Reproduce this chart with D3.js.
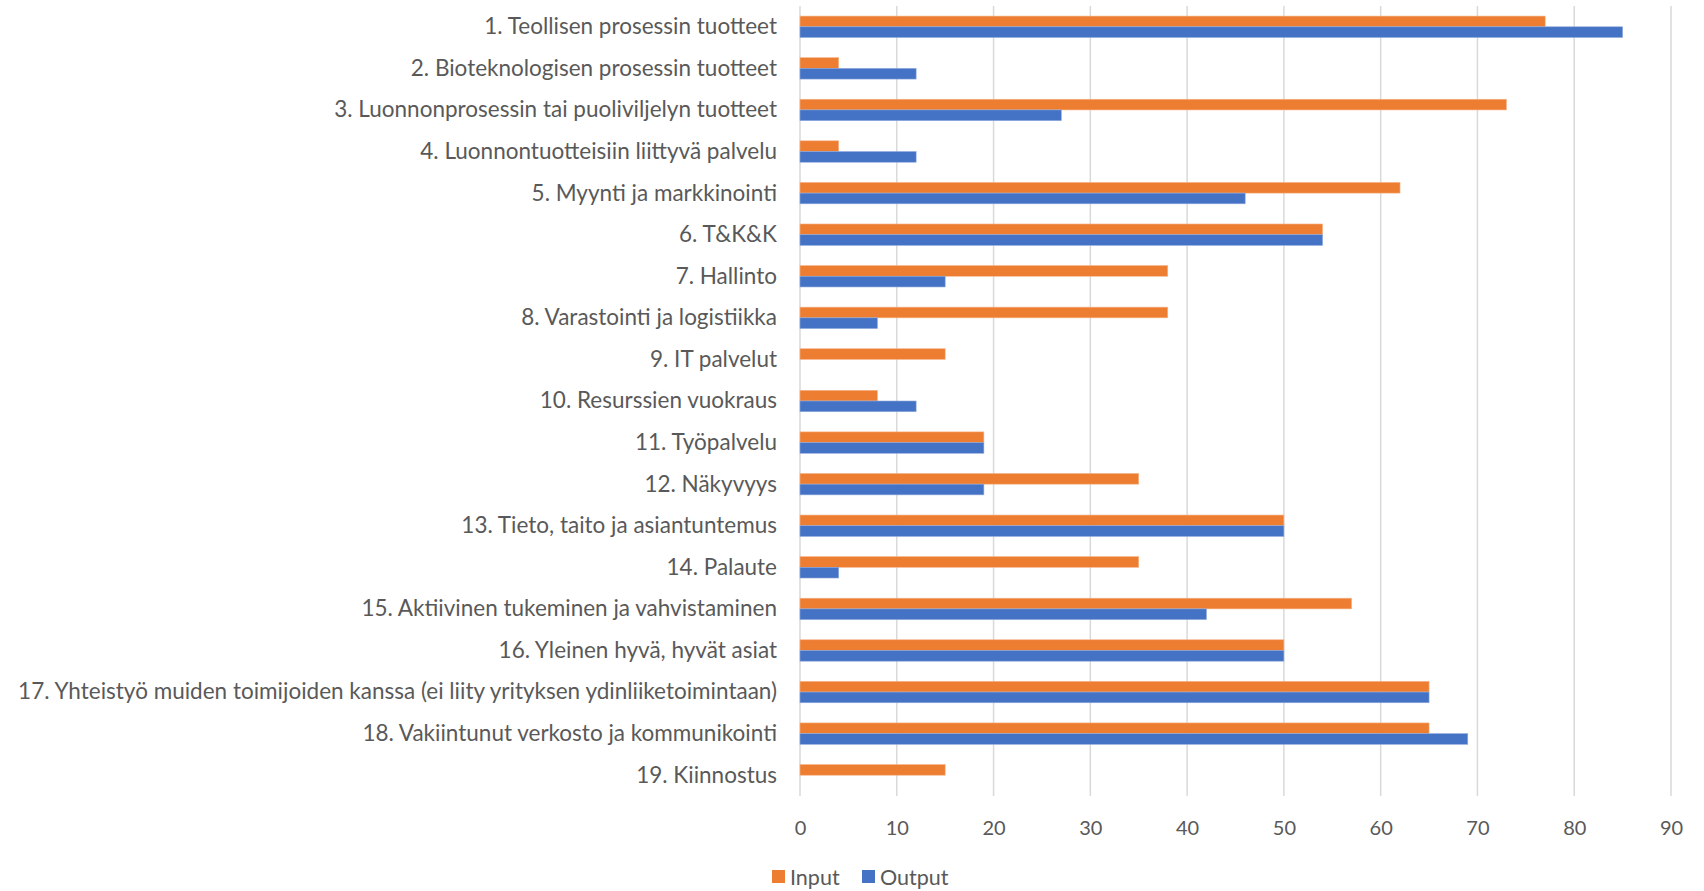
<!DOCTYPE html>
<html>
<head>
<meta charset="utf-8">
<script src="https://cdn.jsdelivr.net/npm/d3@7"></script>
<style>
  html, body { margin: 0; padding: 0; background: #ffffff; }
  svg { display: block; }
  text { font-family: Lato, "Open Sans", sans-serif; fill: #595959; }
</style>
</head>
<body>
<script>
const categories = [
  "1. Teollisen prosessin tuotteet",
  "2. Bioteknologisen prosessin tuotteet",
  "3. Luonnonprosessin tai puoliviljelyn tuotteet",
  "4. Luonnontuotteisiin liittyvä palvelu",
  "5. Myynti ja markkinointi",
  "6. T&K&K",
  "7. Hallinto",
  "8. Varastointi ja logistiikka",
  "9. IT palvelut",
  "10. Resurssien vuokraus",
  "11. Työpalvelu",
  "12. Näkyvyys",
  "13. Tieto, taito ja asiantuntemus",
  "14. Palaute",
  "15. Aktiivinen tukeminen ja vahvistaminen",
  "16. Yleinen hyvä, hyvät asiat",
  "17. Yhteistyö muiden toimijoiden kanssa (ei liity yrityksen ydinliiketoimintaan)",
  "18. Vakiintunut verkosto ja kommunikointi",
  "19. Kiinnostus"
];
const inputValues  = [77, 4, 73, 4, 62, 54, 38, 38, 15, 8, 19, 35, 50, 35, 57, 50, 65, 65, 15];
const outputValues = [85, 12, 27, 12, 46, 54, 15, 8, 0, 12, 19, 19, 50, 4, 42, 50, 65, 69, 0];
const xTicks = [0, 10, 20, 30, 40, 50, 60, 70, 80, 90];
const seriesNames = ["Input", "Output"];
const seriesColors = ["#ED7D31", "#4472C4"];

const W = 1704, H = 891;
const svg = d3.select("body").append("svg").attr("width", W).attr("height", H);

const x = d3.scaleLinear().domain([0, 90]).range([800, 1671]);
const y = d3.scaleBand().domain(categories).range([6, 796]);
const barH = 10.7;

// gridlines
svg.append("g").selectAll("line").data(xTicks).join("line")
  .attr("x1", d => x(d)).attr("x2", d => x(d))
  .attr("y1", 6).attr("y2", 796)
  .attr("stroke", "#D9D9D9").attr("stroke-width", 1.5);

// bars
const rows = categories.map((c, i) => ({ c, input: inputValues[i], output: outputValues[i] }));
const g = svg.append("g");
g.selectAll("rect.in").data(rows).join("rect").attr("class", "in")
  .attr("x", x(0)).attr("y", d => y(d.c) + y.bandwidth() / 2 - barH)
  .attr("width", d => x(d.input) - x(0)).attr("height", barH)
  .attr("fill", seriesColors[0]).attr("stroke", "#F5B58A").attr("stroke-width", 0.6);
g.selectAll("rect.out").data(rows.filter(d => d.output > 0)).join("rect").attr("class", "out")
  .attr("x", x(0)).attr("y", d => y(d.c) + y.bandwidth() / 2)
  .attr("width", d => x(d.output) - x(0)).attr("height", barH)
  .attr("fill", seriesColors[1]).attr("stroke", "#8FAADC").attr("stroke-width", 0.6);

// category labels
const yAxis = d3.axisLeft(y).tickSize(0).tickPadding(0);
const ya = svg.append("g").attr("transform", "translate(777,0)").call(yAxis);
ya.select(".domain").remove();
ya.selectAll("text").attr("font-size", 22.5).attr("fill", "#595959")
  .attr("dy", "0.33em").style("font-family", "Lato, 'Open Sans', sans-serif");

// x axis labels
const xAxis = d3.axisBottom(x).tickValues(xTicks).tickSize(0).tickPadding(0);
const xa = svg.append("g").attr("transform", "translate(0,828)").call(xAxis);
xa.select(".domain").remove();
xa.selectAll("text").attr("font-size", 20).attr("fill", "#595959")
  .attr("dy", "0.35em").attr("y", 0).style("font-family", "Lato, 'Open Sans', sans-serif");

// legend
const leg = svg.append("g").attr("transform", "translate(772,877)");
const legX = [0, 90];
seriesNames.forEach((n, i) => {
  const lg = leg.append("g").attr("transform", `translate(${legX[i]},0)`);
  lg.append("rect").attr("x", 0).attr("y", -7).attr("width", 13).attr("height", 13).attr("fill", seriesColors[i]);
  lg.append("text").attr("x", 18).attr("y", 0).attr("dy", "0.35em").attr("font-size", 21.5).text(n);
});
</script>
</body>
</html>
